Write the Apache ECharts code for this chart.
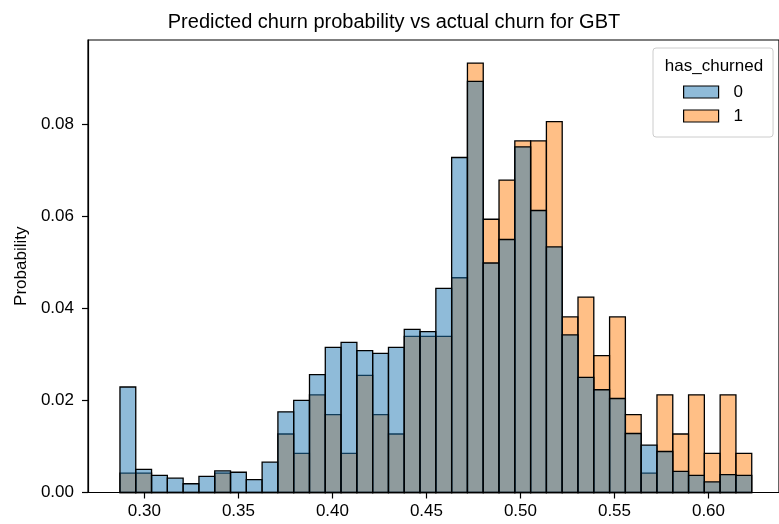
<!DOCTYPE html>
<html>
<head>
<meta charset="utf-8">
<title>Predicted churn probability vs actual churn for GBT</title>
<script src="https://cdn.jsdelivr.net/npm/echarts@6/dist/echarts.min.js"></script>
<style>
  html, body { margin: 0; padding: 0; background: #fff; }
  #chart { width: 779px; height: 524px; }
</style>
</head>
<body>
<div id="chart"></div>
<script>
// Histogram bin edges (41 edges -> 40 equal-width bins)
const binEdges = [
  0.2870, 0.2954, 0.3038, 0.3122, 0.3206, 0.3290, 0.3374, 0.3458, 0.3542, 0.3626,
  0.3710, 0.3794, 0.3878, 0.3962, 0.4046, 0.4130, 0.4214, 0.4298, 0.4382, 0.4466,
  0.4550, 0.4634, 0.4718, 0.4802, 0.4886, 0.4970, 0.5054, 0.5138, 0.5222, 0.5306,
  0.5390, 0.5474, 0.5558, 0.5642, 0.5726, 0.5810, 0.5894, 0.5978, 0.6062, 0.6146,
  0.6230
];

// Share of customers per bin, has_churned = 0
const churn0 = [
  0.0229, 0.0050, 0.0037, 0.0031, 0.0019, 0.0035, 0.0047, 0.0044, 0.0028, 0.0066,
  0.0175, 0.0200, 0.0256, 0.0315, 0.0326, 0.0308, 0.0302, 0.0315, 0.0354, 0.0349,
  0.0443, 0.0727, 0.0892, 0.0498, 0.0549, 0.0750, 0.0612, 0.0533, 0.0342, 0.0250,
  0.0223, 0.0204, 0.0128, 0.0103, 0.0089, 0.0046, 0.0037, 0.0023, 0.0039, 0.0037
];

// Share of customers per bin, has_churned = 1
const churn1 = [
  0.0042, 0.0042, 0.0000, 0.0000, 0.0000, 0.0000, 0.0042, 0.0000, 0.0000, 0.0000,
  0.0127, 0.0085, 0.0212, 0.0169, 0.0085, 0.0254, 0.0169, 0.0127, 0.0339, 0.0339,
  0.0339, 0.0466, 0.0932, 0.0593, 0.0678, 0.0763, 0.0763, 0.0805, 0.0381, 0.0424,
  0.0297, 0.0381, 0.0169, 0.0042, 0.0212, 0.0127, 0.0212, 0.0085, 0.0212, 0.0085
];

const xTicks = [0.30, 0.35, 0.40, 0.45, 0.50, 0.55, 0.60];
const yTicks = [0.00, 0.02, 0.04, 0.06, 0.08];

const BLUE = 'rgba(31,119,180,0.5)';
const ORANGE = 'rgba(255,127,14,0.5)';
const FONT = '"Liberation Sans", Arial, Helvetica, sans-serif';

function histData(values) {
  return values.map((v, i) => [binEdges[i], binEdges[i + 1], v]);
}

function barRenderer(fill) {
  return function (params, api) {
    const p0 = api.coord([api.value(0), api.value(2)]);
    const p1 = api.coord([api.value(1), 0]);
    return {
      type: 'rect',
      shape: { x: p0[0], y: p0[1], width: p1[0] - p0[0], height: p1[1] - p0[1] },
      style: { fill: fill, stroke: '#000', lineWidth: 1.3 }
    };
  };
}

const chart = echarts.init(document.getElementById('chart'), null, { renderer: 'canvas' });

chart.setOption({
  animation: false,
  backgroundColor: '#fff',
  textStyle: { fontFamily: FONT },
  title: {
    text: 'Predicted churn probability vs actual churn for GBT',
    left: 389,
    textAlign: 'center',
    top: 7,
    textStyle: { fontFamily: FONT, fontSize: 20, fontWeight: 'normal', color: '#000' }
  },
  grid: {
    left: 88, right: -3, top: 40, bottom: 31.5,
    show: true, borderColor: '#000', borderWidth: 1.2, backgroundColor: 'transparent'
  },
  legend: {
    orient: 'vertical',
    left: 653, top: 48,
    padding: [34, 30, 11, 30],
    itemWidth: 35, itemHeight: 12, itemGap: 4,
    selectedMode: false,
    backgroundColor: 'rgba(255,255,255,0.8)',
    borderColor: '#cccccc', borderWidth: 1, borderRadius: 3,
    textStyle: { fontFamily: FONT, fontSize: 17, color: '#000', lineHeight: 20, padding: [0, 0, 0, 10] },
    data: [
      { name: '0', icon: 'rect', itemStyle: { color: BLUE, borderColor: '#000', borderWidth: 1.2 } },
      { name: '1', icon: 'rect', itemStyle: { color: ORANGE, borderColor: '#000', borderWidth: 1.2 } }
    ]
  },
  graphic: [{
    type: 'text', z: 100,
    x: 714, y: 66,
    style: { text: 'has_churned', font: '17px ' + FONT, fill: '#000', textAlign: 'center', textVerticalAlign: 'middle' }
  }],
  xAxis: {
    type: 'value',
    min: 0.27, max: 0.6375,
    axisLine: { show: true, lineStyle: { color: '#000', width: 1.2 } },
    axisTick: { show: true, length: 6, lineStyle: { color: '#000', width: 1.2 }, customValues: xTicks },
    axisLabel: {
      show: true, margin: 10, fontSize: 17, color: '#000', fontFamily: FONT,
      customValues: xTicks,
      formatter: v => v.toFixed(2)
    },
    splitLine: { show: false }
  },
  yAxis: {
    type: 'value',
    min: 0, max: 0.0982,
    name: 'Probability',
    nameLocation: 'middle',
    nameRotate: 90,
    nameGap: 58,
    nameTextStyle: { fontFamily: FONT, fontSize: 17, color: '#000' },
    axisLine: { show: true, lineStyle: { color: '#000', width: 1.2 } },
    axisTick: { show: true, length: 6, lineStyle: { color: '#000', width: 1.2 }, customValues: yTicks },
    axisLabel: {
      show: true, margin: 14, fontSize: 17, color: '#000', fontFamily: FONT,
      customValues: yTicks,
      formatter: v => v.toFixed(2)
    },
    splitLine: { show: false }
  },
  series: [
    {
      name: '1',
      type: 'custom',
      renderItem: barRenderer(ORANGE),
      itemStyle: { color: ORANGE, borderColor: '#000' },
      encode: { x: [0, 1], y: 2 },
      data: histData(churn1),
      z: 2
    },
    {
      name: '0',
      type: 'custom',
      renderItem: barRenderer(BLUE),
      itemStyle: { color: BLUE, borderColor: '#000' },
      encode: { x: [0, 1], y: 2 },
      data: histData(churn0),
      z: 3
    }
  ]
});
</script>
</body>
</html>
